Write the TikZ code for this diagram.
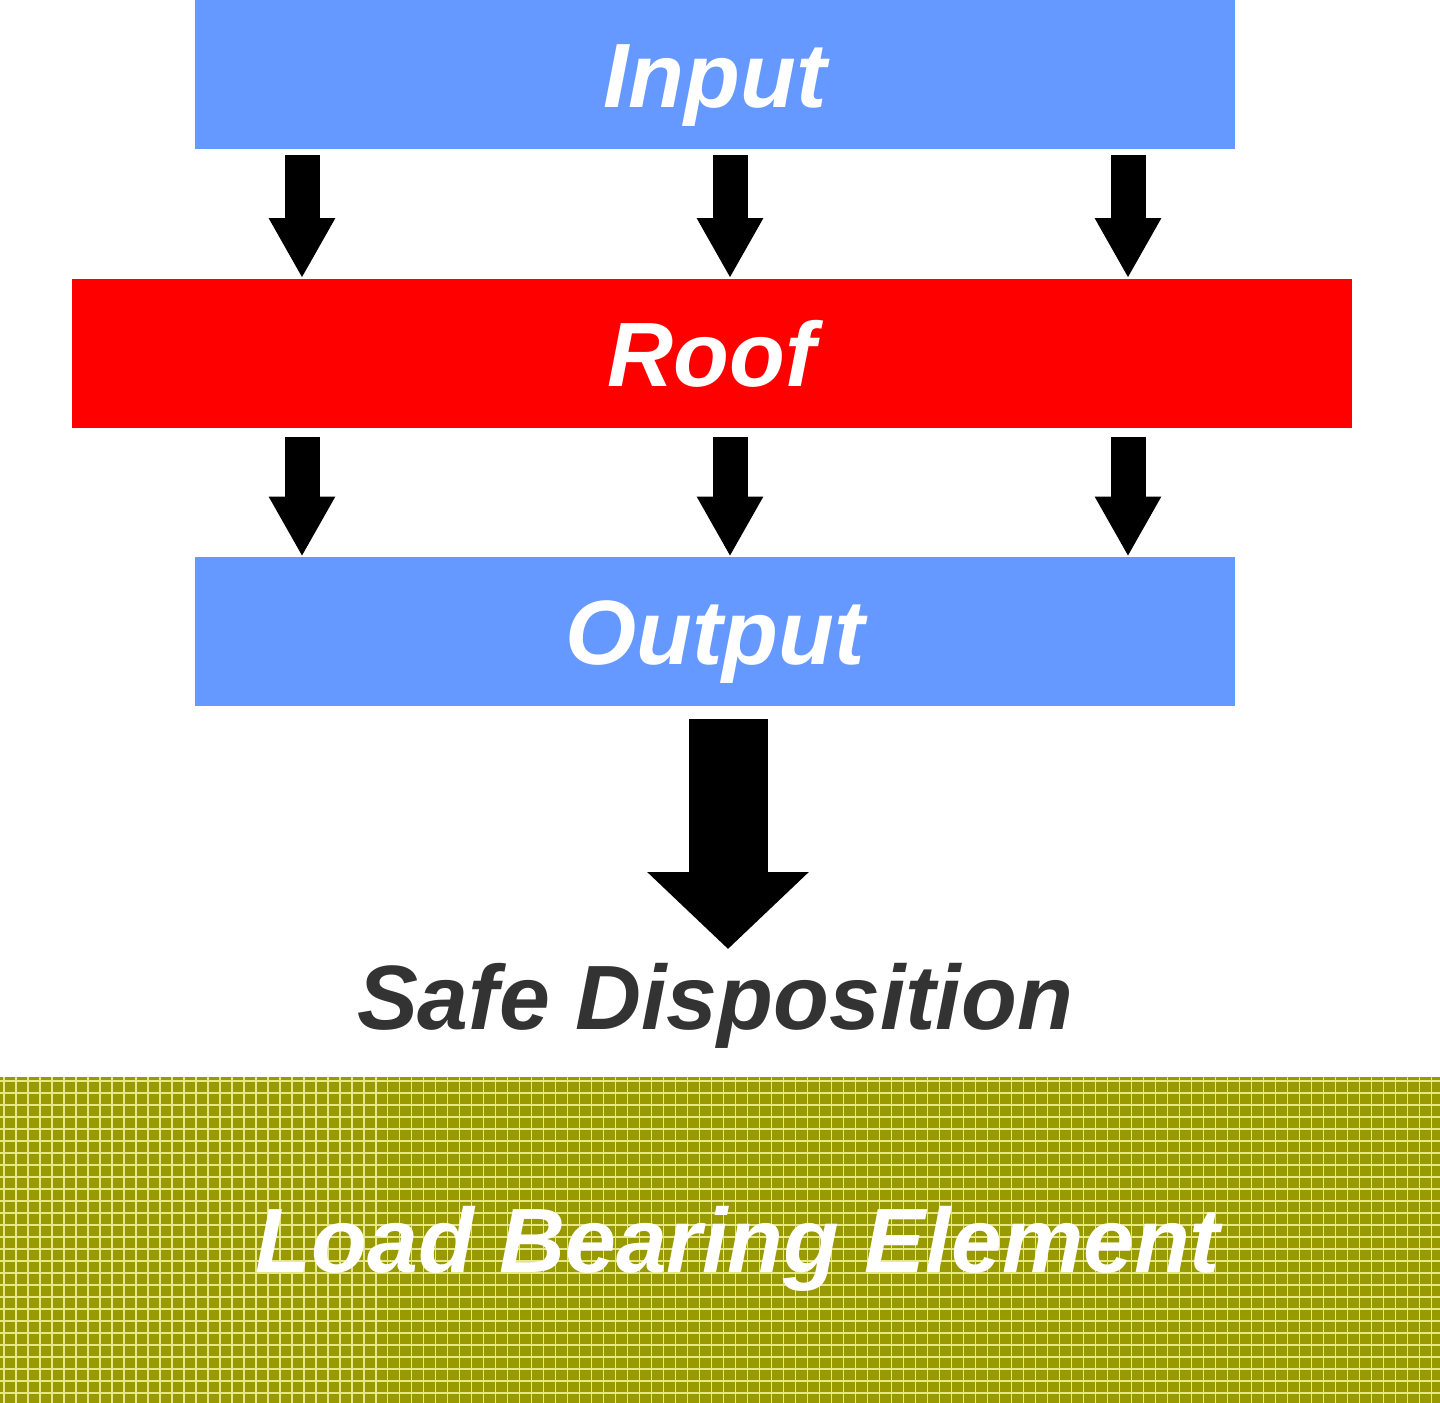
\documentclass[tikz,border=0pt]{standalone}
\usepackage{fontspec}
\setmainfont{Liberation Sans}
\usepackage{xcolor}
\usepackage{tikz}
\usetikzlibrary{arrows.meta, positioning, calc}
\definecolor{layerblue}{HTML}{6699FF}
\definecolor{roofred}{HTML}{FF0000}
\definecolor{loadolive}{HTML}{999900}
\definecolor{gridyellow}{HTML}{E6E68A}
\definecolor{safegray}{HTML}{333333}
\tikzset{
  layerblock/.style={
    rectangle,
    fill=layerblue,
    text=white,
    inner sep=0pt,
    minimum width=10.4cm,
    minimum height=1.49cm,
    text height=0.655cm,
    text depth=0cm,
    font=\fontsize{26}{30}\selectfont\bfseries\itshape,
  },
  roofblock/.style={
    layerblock,
    fill=roofred,
    minimum width=12.8cm,
  },
  loadblock/.style={
    layerblock,
    fill=loadolive,
    minimum width=14.4cm,
    minimum height=3.26cm,
    path picture={
      \draw [gridyellow, line width=0.5pt]
        (path picture bounding box.south west) grid [step=0.12cm]
        (path picture bounding box.north east);
    },
  },
  safelabel/.style={
    inner sep=0pt,
    text=safegray,
    font=\fontsize{26}{30}\selectfont\bfseries\itshape,
  },
  fatarrow/.style={
    -{Triangle[width=0.62cm, length=0.60cm]},
    line width=0.35cm
  },
  bigarrow/.style={
    -{Triangle[width=1.57cm, length=0.77cm]},
    line width=0.79cm
  }
}
\begin{document}
\begin{tikzpicture}
  \useasboundingbox (0,0) rectangle (14.4,14.03);

  % Layers
  \node [layerblock] (input) at (7.15,13.28) {Input};
  \node [roofblock, below=1.28cm of input.south, anchor=north, xshift=-0.03cm] (roof) {Roof};
  \node [layerblock, below=1.28cm of roof.south, anchor=north, xshift=0.03cm] (output) {Output};

  % Result and support
  \node [safelabel, anchor=base] (safe) at (7.15,3.73) {Safe Disposition};
  \node [loadblock] (load) at (7.2,1.63) {\hspace*{0.36cm}Load Bearing Element};

  % Flow through the roof
  \foreach \dx in {-4.13, 0.15, 4.13} {
    \draw [fatarrow] ($(input.south)+(\dx,-0.05)$) -- ($(input.south |- roof.north)+(\dx,0)$);
    \draw [fatarrow] ($(input.south |- roof.south)+(\dx,-0.08)$) -- ($(input.south |- output.north)+(\dx,0)$);
  }

  % Out to safe disposition
  \coordinate (safeTop) at ($(safe.north)+(0.13,0.14)$);
  \draw [bigarrow] ($(output.south)+(0.13,-0.12)$) -- (safeTop);
\end{tikzpicture}
\end{document}
